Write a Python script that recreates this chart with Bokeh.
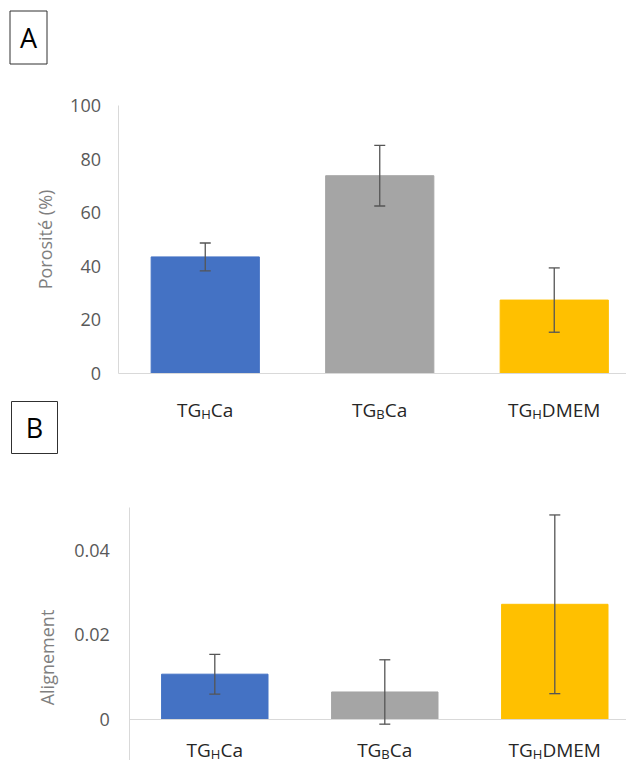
import math
from bokeh.plotting import figure
from bokeh.models import (ColumnDataSource, Range1d, LinearAxis, FixedTicker,
                          Whisker, TeeHead)
from bokeh.layouts import column
from bokeh.embed import file_html
from bokeh.resources import INLINE
from bokeh.core.properties import value

# ---------------- data ----------------
label_main = ["TG", "TG", "TG"]
label_sub = ["H", "B", "H"]
label_rest = ["Ca", "Ca", "DMEM"]
bar_colors = ["#4472C4", "#A5A5A5", "#FFC000"]

porosity = [43.5, 73.8, 27.4]
porosity_err = [5.2, 11.3, 12.0]
porosity_ticks = [0, 20, 40, 60, 80, 100]
porosity_tick_labels = ["0", "20", "40", "60", "80", "100"]

alignment = [0.0107, 0.0065, 0.0272]
alignment_err = [0.0047, 0.0076, 0.0211]
alignment_ticks = [0, 0.02, 0.04]
alignment_tick_labels = ["0", "0.02", "0.04"]

panel_letters = ["A", "B"]

FONT = "Open Sans"
TICK_COLOR = "#595959"
TITLE_COLOR = "#7f7f7f"
AXIS_COLOR = "#d9d9d9"
ERR_COLOR = "#555555"
LABEL_COLOR = "#262626"
TICK_SIZE = 18
MAIN_SIZE = 19
SUB_SIZE = 13
WIDTH = 626

W_EM = {"T": .557, "G": .718, "C": .633, "a": .556, "H": .738, "B": .655,
        "D": .722, "M": .907, "E": .548}


def tw(s, size):
    return sum(W_EM.get(c, .6) for c in s) * size


def make_panel(vals, errs, ticks, tick_labels, ylabel, fig_h, axis_px, x_px,
               zero_px, y_px, bounds, std, title_std, base_px, bar_w, title_pos=None):
    """axis_px / zero_px: pixel position (within this canvas) of x=0 / y=0."""
    x_start = -axis_px / x_px
    y_top = zero_px / y_px
    y_bot = -(fig_h - zero_px) / y_px
    p = figure(frame_width=WIDTH, frame_height=fig_h,
               x_range=Range1d(x_start, x_start + WIDTH / x_px),
               y_range=Range1d(y_bot, y_top),
               x_axis_type=None, y_axis_type=None, output_backend="svg",
               toolbar_location=None, min_border=0)
    p.outline_line_color = None
    p.grid.visible = False
    p.background_fill_color = "white"
    p.border_fill_color = "white"

    xs = [i + 0.5 for i in range(len(vals))]
    src = ColumnDataSource(dict(x=xs, top=vals, color=bar_colors,
                                upper=[v + e for v, e in zip(vals, errs)],
                                lower=[v - e for v, e in zip(vals, errs)]))
    p.vbar(x="x", top="top", width=bar_w, color="color", source=src)

    w = Whisker(base="x", upper="upper", lower="lower", source=src, level="overlay",
                line_color=ERR_COLOR, line_width=1.3,
                upper_head=TeeHead(size=11, line_color=ERR_COLOR, line_width=1.3),
                lower_head=TeeHead(size=11, line_color=ERR_COLOR, line_width=1.3))
    p.add_layout(w)

    # category (x) axis line at y = 0, starting at the value axis
    xax = LinearAxis(fixed_location=0, bounds=(0, 10), ticker=FixedTicker(ticks=[]))
    xax.axis_line_color = AXIS_COLOR
    xax.major_tick_line_color = None
    xax.minor_tick_line_color = None
    xax.major_label_text_font_size = "0px"
    p.add_layout(xax, "below")

    ax = LinearAxis(ticker=FixedTicker(ticks=ticks), bounds=bounds, fixed_location=0)
    ax.major_label_overrides = {t: l for t, l in zip(ticks, tick_labels)}
    ax.axis_line_color = AXIS_COLOR
    ax.major_tick_line_color = None
    ax.minor_tick_line_color = None
    ax.major_tick_out = 0
    ax.major_tick_in = 0
    ax.major_label_standoff = std
    ax.major_label_text_font = FONT
    ax.major_label_text_font_size = f"{TICK_SIZE}px"
    ax.major_label_text_color = TICK_COLOR
    if title_pos is None:
        ax.axis_label = ylabel
        ax.axis_label_text_font = FONT
        ax.axis_label_text_font_size = f"{TICK_SIZE}px"
        ax.axis_label_text_font_style = "normal"
        ax.axis_label_text_color = TITLE_COLOR
        ax.axis_label_standoff = title_std
    else:
        # axis title centred on the (cropped) plot area, as in the source chart
        tx, ty = title_pos
        p.text(x=[(tx - axis_px) / x_px], y=[(zero_px - ty) / y_px], text=[ylabel],
               angle=math.pi / 2, text_align="center", text_baseline="middle",
               text_font=value(FONT), text_font_size=f"{TICK_SIZE}px",
               text_color=TITLE_COLOR)
    p.add_layout(ax, "left")

    # category labels with subscripts
    y_base = -base_px / y_px
    y_sub = -(base_px + 4) / y_px
    off_main, off_sub, off_rest = [], [], []
    for m, s, r in zip(label_main, label_sub, label_rest):
        wm, ws, wr = tw(m, MAIN_SIZE), tw(s, SUB_SIZE), tw(r, MAIN_SIZE)
        L = -(wm + ws + wr) / 2
        off_main.append(L)
        off_sub.append(L + wm)
        off_rest.append(L + wm + ws)
    lab = ColumnDataSource(dict(x=xs, yb=[y_base] * 3, ys=[y_sub] * 3,
                                m=label_main, s=label_sub, r=label_rest,
                                om=off_main, os=off_sub, orr=off_rest))
    common = dict(text_font=value(FONT), text_color=LABEL_COLOR,
                  text_align="left", text_baseline="alphabetic", source=lab)
    p.text(x="x", y="yb", text="m", x_offset="om", text_font_size=f"{MAIN_SIZE}px", **common)
    p.text(x="x", y="ys", text="s", x_offset="os", text_font_size=f"{SUB_SIZE}px", **common)
    p.text(x="x", y="yb", text="r", x_offset="orr", text_font_size=f"{MAIN_SIZE}px", **common)
    return p


# Panel A: canvas = page y 0..458; value axis at x=117.5, zero at y=373
A_AXIS, A_X_PX, A_ZERO, A_Y_PX = 117.5, 174.5, 373, 2.68
pA = make_panel(porosity, porosity_err, porosity_ticks, porosity_tick_labels,
                "Porosité (%)", fig_h=458, axis_px=A_AXIS, x_px=A_X_PX,
                zero_px=A_ZERO, y_px=A_Y_PX, bounds=(0, 100), std=17, title_std=11,
                base_px=36, bar_w=0.62)

# Panel B: canvas = page y 458..760; value axis at x=129.3, zero at y=719
pB = make_panel(alignment, alignment_err, alignment_ticks, alignment_tick_labels,
                "Alignement", fig_h=302, axis_px=129.3, x_px=170,
                zero_px=719 - 458, y_px=4235, bounds=(-0.02, 0.05), std=20, title_std=15,
                base_px=30, bar_w=0.626, title_pos=(46, 657 - 458))

# boxed panel letters (pixel centres mapped through panel A's scales)
box_cx = [28, 34]
box_cy = [37, 427]
box_w = [37, 46]
box_h = [53, 52]
box_src = ColumnDataSource(dict(
    x=[(cx - A_AXIS) / A_X_PX for cx in box_cx],
    y=[(A_ZERO - cy) / A_Y_PX for cy in box_cy],
    w=box_w, h=box_h, t=panel_letters))
pA.rect(x="x", y="y", width="w", height="h", width_units="screen", height_units="screen",
        fill_color="white", line_color="#303030", line_width=1, source=box_src)
pA.text(x="x", y="y", text="t", text_align="center", text_baseline="middle",
        text_font=value(FONT), text_font_size="27px", text_color="black", source=box_src)

layout = column(pA, pB, spacing=0)
open("out.html", "w").write(file_html(layout, INLINE))
